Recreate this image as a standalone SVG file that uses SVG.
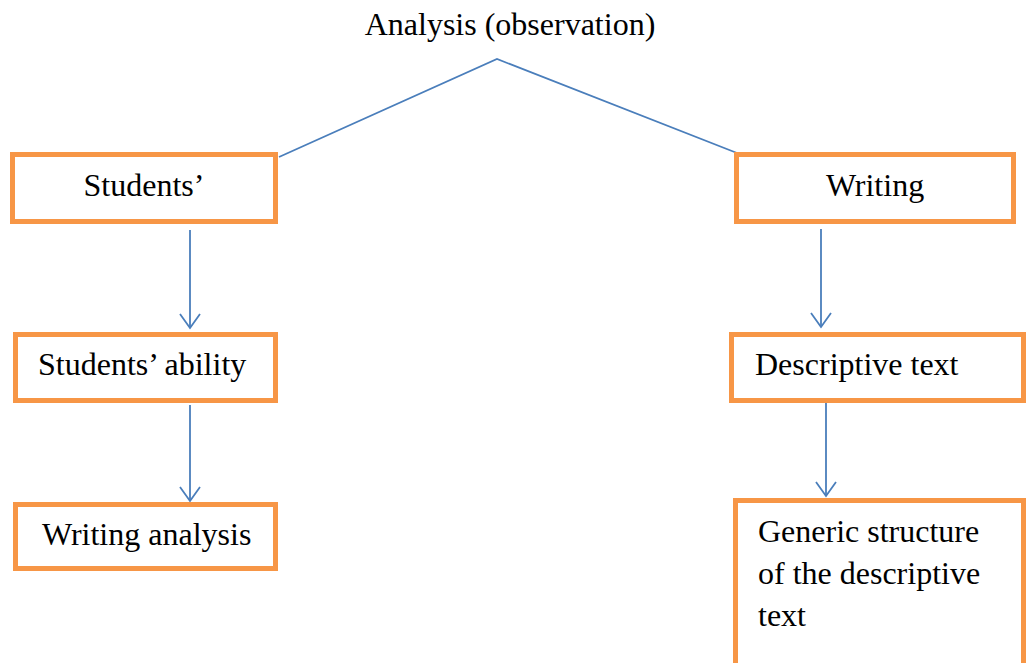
<svg xmlns="http://www.w3.org/2000/svg" width="1026" height="663" viewBox="0 0 1026 663">
<style>
.box{fill:#ffffff;stroke:#f79646;stroke-width:5}
.t{font-family:"Liberation Serif","Times New Roman",serif;font-size:32px;fill:#000}
.c{fill:none;stroke:#4a7ebb;stroke-width:1.8}
</style>
<rect width="1026" height="663" fill="#ffffff"/>
<text class="t" x="510" y="35" text-anchor="middle" id="title">Analysis (observation)</text>
<g id="connectors">
<polyline class="c" points="279,157 497,59 737,153"/>
<line class="c" x1="190" y1="230" x2="190" y2="328"/>
<line class="c" x1="190" y1="405" x2="190" y2="501"/>
<line class="c" x1="821" y1="229" x2="821" y2="327"/>
<line class="c" x1="826" y1="397" x2="826" y2="496"/>
<g class="c">
<path d="M180,314 L190,328 L200,314"/>
<path d="M180,487 L190,501 L200,487"/>
<path d="M811,313 L821,327 L831,313"/>
<path d="M816,482 L826,496 L836,482"/>
</g>
</g>
<g id="students">
<rect class="box" x="12.5" y="154.5" width="263" height="67"/>
<text class="t" x="144" y="196" text-anchor="middle">Students’</text>
</g>
<g id="writing">
<rect class="box" x="736.5" y="154.5" width="277" height="67"/>
<text class="t" x="875" y="196" text-anchor="middle">Writing</text>
</g>
<g id="students-ability">
<rect class="box" x="15.5" y="334.5" width="260" height="66"/>
<text class="t" x="38" y="375">Students’ ability</text>
</g>
<g id="descriptive-text">
<rect class="box" x="731.5" y="334.5" width="292" height="66"/>
<text class="t" x="755" y="375">Descriptive text</text>
</g>
<g id="writing-analysis">
<rect class="box" x="15.5" y="504.5" width="260" height="64"/>
<text class="t" x="42" y="545">Writing analysis</text>
</g>
<g id="generic-structure">
<rect class="box" x="735.5" y="500.5" width="288" height="175"/>
<text class="t" x="758" y="542">Generic structure</text>
<text class="t" x="758" y="584">of the descriptive</text>
<text class="t" x="758" y="626">text</text>
</g>
</svg>
